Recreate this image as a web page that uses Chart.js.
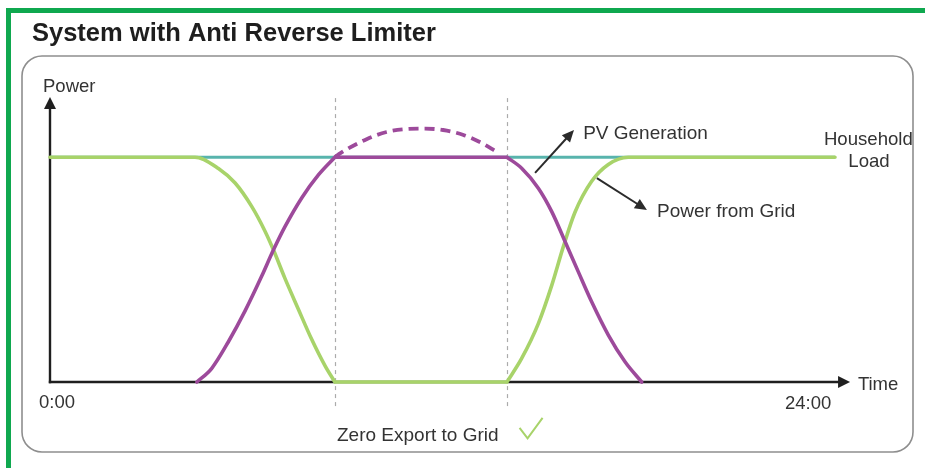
<!DOCTYPE html>
<html><head><meta charset="utf-8">
<script src="https://cdn.jsdelivr.net/npm/chart.js@4/dist/chart.umd.min.js"></script>
<style>html,body{margin:0;padding:0;background:#fff;}canvas{display:block;}</style>
</head><body>
<canvas id="c" width="925" height="468"></canvas>
<script>
// ---- text ----
const chartTitle = 'System with Anti Reverse Limiter';
const seriesNames = ['PV Generation', 'PV Potential', 'Power from Grid', 'Household Load'];
const yAxisLabel = 'Power';
const xAxisLabel = 'Time';
const tickLabels = ['0:00', '24:00'];
const loadLabelLines = ['Household', 'Load'];
const noteText = 'Zero Export to Grid';

// ---- data (hours 0..24, power relative to household load) ----
const dividerHours = [8.71, 13.97];

const loadHours  = [0, 24];
const loadValues = [1, 1];

// null entries break the curve so the limiter corners stay sharp
const gridHours  = [0, 4.43, 5.15, 5.66, 6.17, 6.57, 6.83, 7.18, 7.59, 8.0, 8.41, 8.71, 8.71, 8.71, 13.97, 13.97, 13.97, 14.42, 14.93, 15.34, 15.69, 16.05, 16.56, 17.07, 17.68, 24];
const gridValues = [1, 1, 0.95, 0.885, 0.78, 0.672, 0.588, 0.462, 0.325, 0.19, 0.072, 0, null, 0, 0, null, 0, 0.105, 0.26, 0.43, 0.6, 0.755, 0.893, 0.968, 1, 1];

const pvHours  = [4.49, 4.94, 5.45, 5.96, 6.47, 6.83, 7.18, 7.70, 8.20, 8.71, 8.71, 8.71, 13.97, 13.97, 13.97, 14.42, 14.93, 15.34, 15.75, 16.15, 16.56, 17.07, 17.58, 18.09];
const pvValues = [0, 0.06, 0.178, 0.315, 0.47, 0.587, 0.69, 0.82, 0.92, 1, null, 1, 1, null, 1, 0.951, 0.862, 0.758, 0.624, 0.491, 0.357, 0.209, 0.09, 0];

const pvPotentialHours  = [8.71, 8.88, 9.68, 10.29, 10.90, 11.47, 12.02, 12.64, 13.20, 13.66];
const pvPotentialValues = [1.0, 1.018, 1.080, 1.112, 1.125, 1.127, 1.121, 1.099, 1.063, 1.024];

const toPoints = (xs, ys) => xs.map((x, i) => ({ x: x, y: ys[i] }));

// ---- decoration placement (data units unless noted) ----
const FONT = "'Liberation Sans', Arial, Helvetica, sans-serif";
const deco = {
  yTip: 1.268, xTip: 24.46, dividerTop: 1.263, dividerBottom: -0.125,
  pvArrow: [[14.83, 0.93], [16.02, 1.121]],
  gridArrow: [[16.72, 0.907], [18.25, 0.765]],
  pvText: [16.30, 1.083],
  gridText: [18.56, 0.736],
  loadText: [[25.02, 1.054], [25.04, 0.956]],
  timeText: [24.70, -0.036],
  yLabelText: [-0.214, 1.29],
  tickText: [[-0.336, -0.116], [22.47, -0.120]],
  noteTextPos: [8.775, -0.262]
};

function drawArrow(ctx, x1, y1, x2, y2, len, half) {
  const a = Math.atan2(y2 - y1, x2 - x1);
  const c = Math.cos(a), s = Math.sin(a);
  ctx.beginPath();
  ctx.moveTo(x1, y1);
  ctx.lineTo(x2 - c * len * 0.7, y2 - s * len * 0.7);
  ctx.stroke();
  ctx.beginPath();
  ctx.moveTo(x2, y2);
  ctx.lineTo(x2 - len * c + half * s, y2 - len * s - half * c);
  ctx.lineTo(x2 - len * c - half * s, y2 - len * s + half * c);
  ctx.closePath();
  ctx.fill();
}

const decorPlugin = {
  id: 'decor',
  beforeDraw(chart) {
    const ctx = chart.ctx;
    ctx.save();
    ctx.fillStyle = '#ffffff';
    ctx.fillRect(0, 0, chart.width, chart.height);
    // green frame (top and left)
    ctx.fillStyle = '#0fa84f';
    ctx.fillRect(6, 8, chart.width - 6, 5);
    ctx.fillRect(6, 8, 5, chart.height - 8);
    // title
    ctx.fillStyle = '#1e1e1e';
    ctx.font = 'bold 25.5px ' + FONT;
    ctx.textBaseline = 'alphabetic';
    ctx.fillText(chartTitle, 32, 41);
    // rounded panel
    ctx.strokeStyle = '#8e8e8e';
    ctx.lineWidth = 1.6;
    ctx.beginPath();
    ctx.roundRect(22, 56, 891, 396, 20);
    ctx.stroke();
    ctx.restore();
  },
  beforeDatasetsDraw(chart) {
    const ctx = chart.ctx, xs = chart.scales.x, ys = chart.scales.y;
    ctx.save();
    // dashed dividers
    ctx.strokeStyle = '#ababab';
    ctx.lineWidth = 1.2;
    ctx.setLineDash([4, 4]);
    dividerHours.forEach(h => {
      const px = Math.round(xs.getPixelForValue(h)) + 0.5;
      ctx.beginPath();
      ctx.moveTo(px, ys.getPixelForValue(deco.dividerTop));
      ctx.lineTo(px, ys.getPixelForValue(deco.dividerBottom));
      ctx.stroke();
    });
    ctx.setLineDash([]);
    // axes with arrow heads
    const x0 = xs.getPixelForValue(0), y0 = ys.getPixelForValue(0);
    ctx.strokeStyle = '#1f1f1f';
    ctx.fillStyle = '#1f1f1f';
    ctx.lineWidth = 2.4;
    drawArrow(ctx, x0, y0 + 1.2, x0, ys.getPixelForValue(deco.yTip), 12, 6);
    drawArrow(ctx, x0 - 1.2, y0, xs.getPixelForValue(deco.xTip), y0, 12, 6);
    ctx.restore();
  },
  afterDatasetsDraw(chart) {
    const ctx = chart.ctx, xs = chart.scales.x, ys = chart.scales.y;
    const P = p => [xs.getPixelForValue(p[0]), ys.getPixelForValue(p[1])];
    ctx.save();
    // annotation arrows
    ctx.strokeStyle = '#2b2b2b';
    ctx.fillStyle = '#2b2b2b';
    ctx.lineWidth = 2;
    [deco.pvArrow, deco.gridArrow].forEach(ar => {
      const a = P(ar[0]), b = P(ar[1]);
      drawArrow(ctx, a[0], a[1], b[0], b[1], 12, 5.5);
    });
    // texts
    ctx.fillStyle = '#333333';
    ctx.textBaseline = 'alphabetic';
    ctx.textAlign = 'left';
    ctx.font = '19px ' + FONT;
    let p = P(deco.pvText); ctx.fillText(seriesNames[0], p[0], p[1]);
    p = P(deco.gridText); ctx.fillText(seriesNames[2], p[0], p[1]);
    ctx.font = '18.5px ' + FONT;
    p = P(deco.timeText); ctx.fillText(xAxisLabel, p[0], p[1]);
    p = P(deco.yLabelText); ctx.fillText(yAxisLabel, p[0], p[1]);
    tickLabels.forEach((t, i) => { const q = P(deco.tickText[i]); ctx.fillText(t, q[0], q[1]); });
    ctx.font = '19px ' + FONT;
    p = P(deco.noteTextPos); ctx.fillText(noteText, p[0], p[1]);
    const noteEnd = p[0] + ctx.measureText(noteText).width;
    ctx.font = '18.6px ' + FONT;
    ctx.textAlign = 'center';
    loadLabelLines.forEach((t, i) => { const q = P(deco.loadText[i]); ctx.fillText(t, q[0], q[1]); });
    // check mark
    ctx.strokeStyle = '#a8d36a';
    ctx.lineWidth = 2;
    ctx.beginPath();
    ctx.moveTo(noteEnd + 21, p[1] - 13);
    ctx.lineTo(noteEnd + 29, p[1] - 2.5);
    ctx.lineTo(noteEnd + 44, p[1] - 23);
    ctx.stroke();
    ctx.restore();
  }
};

const PURPLE = '#9d4a9b', GREEN = '#a8d36a', TEAL = '#58b4ad';

new Chart(document.getElementById('c'), {
  type: 'line',
  data: {
    datasets: [
      { label: seriesNames[0], data: toPoints(pvHours, pvValues), borderColor: PURPLE, borderWidth: 3.6,
        cubicInterpolationMode: 'monotone', borderCapStyle: 'round', borderJoinStyle: 'round', pointRadius: 0, clip: false, spanGaps: false },
      { label: seriesNames[1], data: toPoints(pvPotentialHours, pvPotentialValues), borderColor: PURPLE, borderWidth: 3.8,
        borderDash: [10, 6], cubicInterpolationMode: 'monotone', pointRadius: 0, clip: false },
      { label: seriesNames[2], data: toPoints(gridHours, gridValues), borderColor: GREEN, borderWidth: 3.6,
        cubicInterpolationMode: 'monotone', borderCapStyle: 'round', borderJoinStyle: 'round', pointRadius: 0, clip: false, spanGaps: false },
      { label: seriesNames[3], data: toPoints(loadHours, loadValues), borderColor: TEAL, borderWidth: 3,
        pointRadius: 0, clip: false }
    ]
  },
  options: {
    responsive: false,
    devicePixelRatio: 1,
    animation: false,
    layout: { padding: { left: 50, right: 90, top: 101, bottom: 86 } },
    scales: {
      x: { type: 'linear', min: 0, max: 24, display: false },
      y: { type: 'linear', min: 0, max: 1.25, display: false }
    },
    plugins: { legend: { display: false }, tooltip: { enabled: false }, title: { display: false } }
  },
  plugins: [decorPlugin]
});
</script>
</body></html>
